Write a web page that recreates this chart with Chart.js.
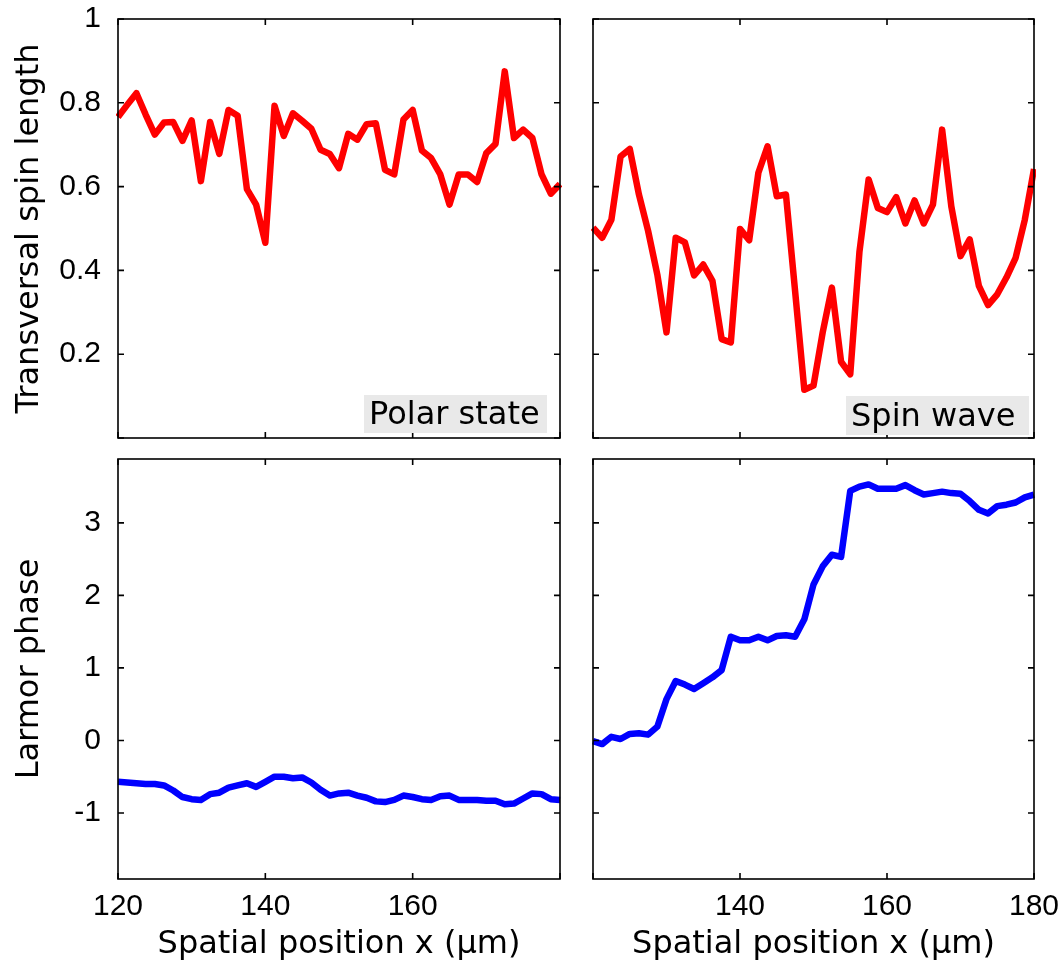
<!DOCTYPE html>
<html>
<head>
<meta charset="utf-8">
<script src="https://cdn.jsdelivr.net/npm/chart.js@4.4.1/dist/chart.umd.min.js"></script>
<style>
  body { margin: 0; background: #fff; }
  #wrap { position: relative; width: 1064px; height: 967px; }
  canvas { position: absolute; }
</style>
</head>
<body>
<div id="wrap">
  <canvas id="polarLength" width="580" height="450" style="left:0;top:0"></canvas>
  <canvas id="waveLength" width="484" height="450" style="left:580px;top:0"></canvas>
  <canvas id="polarPhase" width="580" height="517" style="left:0;top:450px"></canvas>
  <canvas id="wavePhase" width="484" height="517" style="left:580px;top:450px"></canvas>
</div>
<script>
// spatial sample positions (µm), shared by all four panels
const positions = [120, 121.25, 122.5, 123.75, 125, 126.25, 127.5, 128.75, 130, 131.25,
  132.5, 133.75, 135, 136.25, 137.5, 138.75, 140, 141.25, 142.5, 143.75,
  145, 146.25, 147.5, 148.75, 150, 151.25, 152.5, 153.75, 155, 156.25,
  157.5, 158.75, 160, 161.25, 162.5, 163.75, 165, 166.25, 167.5, 168.75,
  170, 171.25, 172.5, 173.75, 175, 176.25, 177.5, 178.75, 180];

// transversal spin length
const polarLength = [0.766, 0.795, 0.823, 0.772, 0.724, 0.753, 0.754, 0.709, 0.758, 0.613,
  0.754, 0.678, 0.783, 0.769, 0.594, 0.557, 0.466, 0.793, 0.721, 0.775,
  0.757, 0.738, 0.688, 0.678, 0.644, 0.726, 0.712, 0.749, 0.751, 0.640,
  0.629, 0.760, 0.783, 0.686, 0.668, 0.629, 0.557, 0.629, 0.629, 0.611,
  0.680, 0.702, 0.875, 0.716, 0.736, 0.716, 0.629, 0.583, 0.606];
const waveLength = [0.502, 0.478, 0.521, 0.672, 0.690, 0.581, 0.494, 0.390, 0.252, 0.478,
  0.467, 0.388, 0.414, 0.375, 0.236, 0.228, 0.499, 0.472, 0.633, 0.696,
  0.577, 0.581, 0.350, 0.115, 0.125, 0.252, 0.359, 0.182, 0.152, 0.444,
  0.617, 0.549, 0.539, 0.575, 0.512, 0.567, 0.512, 0.557, 0.736, 0.553,
  0.434, 0.474, 0.363, 0.317, 0.343, 0.383, 0.430, 0.521, 0.642];

// Larmor phase
const polarPhase = [-0.57, -0.58, -0.59, -0.60, -0.60, -0.62, -0.69, -0.78, -0.81, -0.82,
  -0.74, -0.72, -0.65, -0.62, -0.59, -0.64, -0.57, -0.50, -0.50, -0.52,
  -0.51, -0.58, -0.68, -0.76, -0.73, -0.72, -0.76, -0.79, -0.84, -0.85,
  -0.82, -0.76, -0.78, -0.81, -0.82, -0.77, -0.76, -0.82, -0.82, -0.82,
  -0.83, -0.83, -0.88, -0.87, -0.80, -0.73, -0.74, -0.81, -0.82];
const wavePhase = [-0.01, -0.05, 0.05, 0.02, 0.09, 0.10, 0.08, 0.19, 0.57, 0.82,
  0.77, 0.71, 0.79, 0.87, 0.97, 1.43, 1.38, 1.38, 1.43, 1.38,
  1.44, 1.45, 1.43, 1.67, 2.15, 2.40, 2.56, 2.53, 3.44, 3.50,
  3.53, 3.47, 3.47, 3.47, 3.52, 3.45, 3.39, 3.41, 3.43, 3.41,
  3.40, 3.30, 3.18, 3.13, 3.23, 3.25, 3.28, 3.35, 3.39];

const xTicks = [120, 140, 160, 180];
const lengthTicks = [0, 0.2, 0.4, 0.6, 0.8, 1];
const phaseTicks = [-1, 0, 1, 2, 3];

const TICK_FONT = { family: "Arial, 'Liberation Sans', sans-serif", size: 30 };
const TEXT_FONT = { family: "'DejaVu Sans', Verdana, sans-serif", size: 32 };

// box frame, inward tick marks and the grey corner label
const panelDecor = {
  id: 'panelDecor',
  afterDatasetsDraw(chart, args, opts) {
    const { ctx, chartArea: a, scales: { x, y } } = chart;
    ctx.save();
    ctx.strokeStyle = '#000';
    ctx.lineWidth = 1.6;
    ctx.strokeRect(a.left, a.top, a.right - a.left, a.bottom - a.top);
    ctx.beginPath();
    x.ticks.forEach(t => {
      const px = x.getPixelForValue(t.value);
      ctx.moveTo(px, a.bottom); ctx.lineTo(px, a.bottom - 6);
      ctx.moveTo(px, a.top); ctx.lineTo(px, a.top + 6);
    });
    y.ticks.forEach(t => {
      const py = y.getPixelForValue(t.value);
      ctx.moveTo(a.left, py); ctx.lineTo(a.left + 6, py);
      ctx.moveTo(a.right, py); ctx.lineTo(a.right - 6, py);
    });
    ctx.stroke();

    if (opts.text) {
      const bx = a.right - opts.right - opts.width;
      const by = a.bottom - opts.bottom - opts.height;
      ctx.fillStyle = '#e9e9e9';
      ctx.fillRect(bx, by, opts.width, opts.height);
      ctx.fillStyle = '#000';
      ctx.font = TEXT_FONT.size + 'px ' + TEXT_FONT.family;
      ctx.textBaseline = 'alphabetic';
      ctx.textAlign = 'left';
      ctx.fillText(opts.text, bx + 5, by + opts.height - 9);
    }
    ctx.restore();
  }
};

function makePanel(id, p) {
  return new Chart(document.getElementById(id), {
    type: 'line',
    data: {
      datasets: [{
        data: positions.map((x, i) => ({ x: x, y: p.values[i] })),
        borderColor: p.color,
        borderWidth: 6.5,
        borderJoinStyle: 'round',
        pointRadius: 0,
        tension: 0,
        clip: 2
      }]
    },
    options: {
      responsive: false,
      animation: false,
      devicePixelRatio: 1,
      layout: { padding: p.padding },
      plugins: {
        legend: { display: false },
        tooltip: { enabled: false },
        panelDecor: p.label || {}
      },
      scales: {
        x: {
          type: 'linear', min: 120, max: 180,
          grid: { display: false }, border: { display: false },
          afterBuildTicks: s => { s.ticks = xTicks.map(v => ({ value: v })); },
          ticks: {
            display: !!p.xShow, autoSkip: false, maxRotation: 0, padding: 2,
            color: '#000', font: TICK_FONT,
            callback: v => (p.xShow && p.xShow.includes(v)) ? String(v) : ''
          },
          title: {
            display: !!p.xShow, text: 'Spatial position x (µm)',
            color: '#000', font: TEXT_FONT, padding: { top: 0, bottom: 3 }
          },
          afterFit: s => { s.height = p.xHeight; s.paddingLeft = 0; s.paddingRight = 0; }
        },
        y: {
          type: 'linear', min: p.yMin, max: p.yMax,
          grid: { display: false }, border: { display: false },
          afterBuildTicks: s => { s.ticks = p.yTicks.map(v => ({ value: v })); },
          ticks: {
            display: !!p.yTitle, padding: 9, color: '#000', font: TICK_FONT,
            callback: v => (p.yHide && p.yHide.includes(v)) ? '' : String(+v.toFixed(1))
          },
          title: {
            display: !!p.yTitle, text: p.yTitle || '',
            color: '#000', font: TEXT_FONT, padding: { top: 10, bottom: 0 }
          },
          afterFit: s => { s.width = p.yWidth; s.paddingTop = 0; s.paddingBottom = 0; }
        }
      }
    },
    plugins: [panelDecor]
  });
}

makePanel('polarLength', {
  values: polarLength, color: '#ff0000',
  yMin: 0, yMax: 1, yTicks: lengthTicks, yHide: [0],
  yTitle: 'Transversal spin length', yWidth: 118, xHeight: 0,
  padding: { top: 19, right: 20, bottom: 12, left: 0 },
  label: { text: 'Polar state', right: 13, bottom: 5, width: 183, height: 38 }
});
makePanel('waveLength', {
  values: waveLength, color: '#ff0000',
  yMin: 0, yMax: 1, yTicks: lengthTicks,
  yWidth: 0, xHeight: 0,
  padding: { top: 19, right: 30, bottom: 12, left: 13 },
  label: { text: 'Spin wave', right: 5, bottom: 3, width: 183, height: 39 }
});
makePanel('polarPhase', {
  values: polarPhase, color: '#0000ff',
  yMin: -1.91, yMax: 3.88, yTicks: phaseTicks,
  yTitle: 'Larmor phase', yWidth: 118, xHeight: 88, xShow: [120, 140, 160],
  padding: { top: 9, right: 20, bottom: 0, left: 0 }
});
makePanel('wavePhase', {
  values: wavePhase, color: '#0000ff',
  yMin: -1.91, yMax: 3.88, yTicks: phaseTicks,
  yWidth: 0, xHeight: 88, xShow: [140, 160, 180],
  padding: { top: 9, right: 30, bottom: 0, left: 13 }
});
</script>
</body>
</html>
